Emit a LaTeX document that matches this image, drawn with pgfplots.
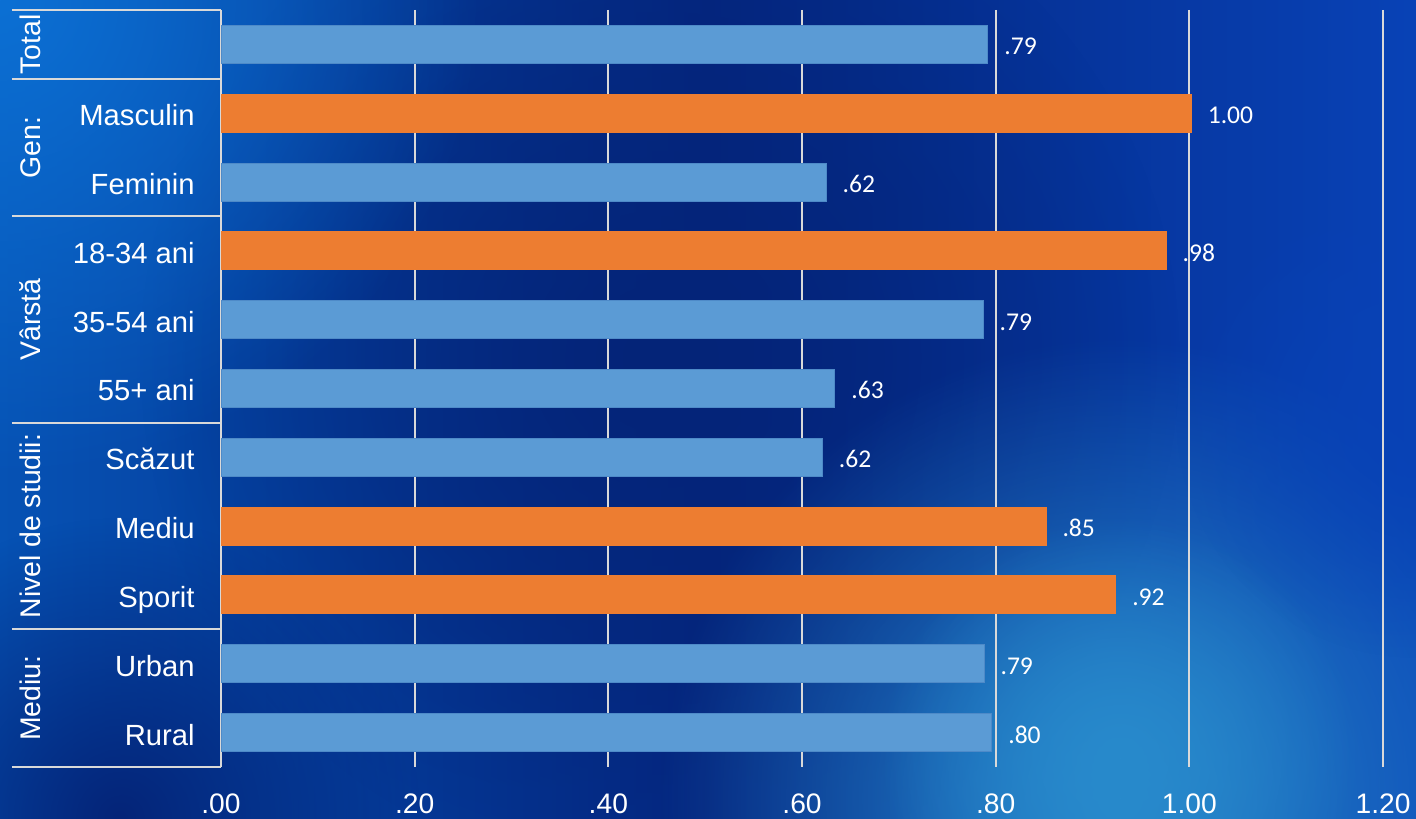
\documentclass[border=0pt]{standalone}
\usepackage{pgfplots}
\pgfplotsset{compat=1.18}
\usepackage{pgfplotstable}
\usepackage{fontspec}
\setmainfont{Liberation Sans}
\newfontfamily\valfont{Carlito}
\usetikzlibrary{fadings}
\definecolor{barblue}{HTML}{5B9BD5}
\definecolor{barorange}{HTML}{ED7D31}
\definecolor{gridgray}{HTML}{D9D9D9}
\definecolor{bgleft}{RGB}{6,82,180}
\definecolor{bgmid}{RGB}{4,38,128}
\definecolor{bgright}{RGB}{8,66,182}
\definecolor{glowtl}{RGB}{12,112,212}
\definecolor{glowbr}{RGB}{40,138,204}
\definecolor{darkbl}{RGB}{4,36,120}
\tikzfading[name=glowfade, inner color=transparent!0, outer color=transparent!100]

\pgfplotstableread{
x y lab
0.792 0 .79
0.625 2 .62
0.787 4 .79
0.634 5 .63
0.621 6 .62
0.788 9 .79
0.796 10 .80
}\bluedata
\pgfplotstableread{
x y lab
1.002 1 1.00
0.976 3 .98
0.852 7 .85
0.924 8 .92
}\orangedata

\begin{document}
\begin{tikzpicture}
\path[use as bounding box] (0,0) rectangle (708pt,409pt);
\shade[left color=bgleft, right color=bgright, middle color=bgmid] (0,0) rectangle (708pt,409pt);
\begin{scope}
\clip (0,0) rectangle (708pt,409pt);
\fill[darkbl, path fading=glowfade] (330pt,230pt) circle (260pt);
\fill[glowtl, path fading=glowfade] (0pt,409pt) circle (240pt);
\fill[darkbl, path fading=glowfade] (60pt,0pt) circle (150pt);
\fill[glowbr, path fading=glowfade] (560pt,10pt) circle (230pt);
\fill[glowbr, path fading=glowfade] (560pt,30pt) circle (120pt);
\fill[bgright, path fading=glowfade] (708pt,200pt) circle (120pt);
\end{scope}
\begin{axis}[
  at={(110.5pt,25.5pt)}, anchor=south west,
  scale only axis, width=581pt, height=378.5pt,
  xmin=0, xmax=1.2, ymin=-0.5, ymax=10.5, y dir=reverse,
  clip=false,
  axis line style={draw=none},
  xmajorgrids, major grid style={draw=gridgray, line width=1pt},
  major tick length=0pt,
  xtick={0,0.2,0.4,0.6,0.8,1.0,1.2},
  xticklabels={.00,.20,.40,.60,.80,1.00,1.20},
  xticklabel style={font=\fontsize{14.1pt}{17pt}\selectfont, text=white, anchor=base, inner sep=0pt, yshift=-23pt},
  ytick={0,1,2,3,4,5,6,7,8,9,10},
  yticklabels={,Masculin,Feminin,18-34 ani,35-54 ani,55+ ani,Scăzut,Mediu,Sporit,Urban,Rural},
  yticklabel style={font=\fontsize{14.6pt}{17pt}\selectfont, text=white, anchor=base east, inner sep=0pt, xshift=-13pt, yshift=-6.2pt},
  xbar, bar width=19pt, bar shift=0pt,
  point meta=explicit symbolic,
  nodes near coords,
  every node near coord/.append style={font=\valfont\fontsize{12.8pt}{14pt}\selectfont, text=white, anchor=base west, inner sep=0pt, xshift=8pt, yshift=-5.2pt},
]
\addplot[fill=barblue, draw={rgb,255:red,78;green,138;blue,200}, line width=0.5pt] table[x=x, y=y, meta=lab] {\bluedata};
\addplot[fill=barorange, draw=barorange, line width=0.5pt] table[x=x, y=y, meta=lab] {\orangedata};
% group separators
\draw[gridgray, line width=1pt] (axis cs:-0.216,-0.5) -- (axis cs:0,-0.5);
\draw[gridgray, line width=1pt] (axis cs:-0.216,0.5) -- (axis cs:0,0.5);
\draw[gridgray, line width=1pt] (axis cs:-0.216,2.5) -- (axis cs:0,2.5);
\draw[gridgray, line width=1pt] (axis cs:-0.216,5.5) -- (axis cs:0,5.5);
\draw[gridgray, line width=1pt] (axis cs:-0.216,8.5) -- (axis cs:0,8.5);
\draw[gridgray, line width=1pt] (axis cs:-0.216,10.5) -- (axis cs:0,10.5);
% group labels
\begin{scope}[every node/.style={font=\fontsize{14.2pt}{17pt}\selectfont, text=white, rotate=90, anchor=base, inner sep=0pt}]
\node at (axis cs:-0.186,0) {Total};
\node at (axis cs:-0.186,1.5) {Gen:};
\node at (axis cs:-0.186,4) {Vârstă};
\node at (axis cs:-0.186,7) {Nivel de studii:};
\node at (axis cs:-0.186,9.5) {Mediu:};
\end{scope}
\end{axis}
\end{tikzpicture}
\end{document}
